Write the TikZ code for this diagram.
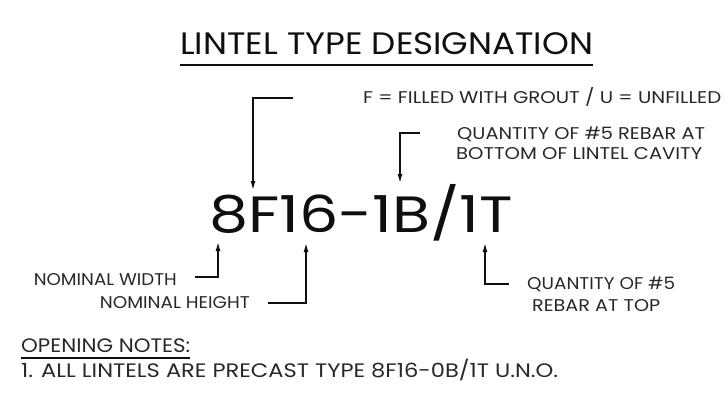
\documentclass[tikz,border=0pt]{standalone}
\usepackage{fontspec}
\setmainfont{Poppins}
\usetikzlibrary{arrows.meta,positioning}
\definecolor{ltInk}{RGB}{15,15,15}
\definecolor{ltNote}{RGB}{40,40,40}
% stretch a line of lettering to a set width, height kept
\newcommand{\cadline}[2]{\resizebox{#1pt}{\height}{#2}}
\tikzset{
  lbl/.style={inner sep=0pt, text=ltNote, font=\fontsize{17}{18}\selectfont},
  notelbl/.style={inner sep=0pt, text=ltNote, font=\fontsize{19.5}{21}\selectfont},
  ttl/.style={inner sep=0pt, text=ltInk, font=\fontsize{31}{34}\selectfont},
  desigtxt/.style={inner sep=0pt, text=ltInk, font=\fontsize{51}{56}\selectfont},
  lead/.style={draw=ltInk, line width=1.4pt, -{Latex[length=9pt,width=5pt]}},
  uline/.style={draw=ltInk, line width=1.3pt}
}

\begin{document}
\begin{tikzpicture}[x=1pt,y=-1pt]
  \useasboundingbox[fill=white] (0,0) rectangle (728,393);
  % title
  \node[ttl,anchor=base west] (title) at (180,55) {\cadline{413}{LINTEL TYPE DESIGNATION}};
  \draw[uline] ([yshift=-10pt]title.base west) -- ([yshift=-10pt]title.base east);
  % the designation itself
  \node[desigtxt,anchor=base west] (desig) at (209,232) {\cadline{304}{8F16-1B/1T}};
  % upper callouts
  \node[lbl,anchor=base west] (fillTxt) at (363,104) {\cadline{358}{F = FILLED WITH GROUT / U = UNFILLED}};
  \coordinate (fEnd) at (293,98);
  \coordinate (fKnee) at (253,98);
  \coordinate (fTip) at (253,190);
  \draw[lead] (fEnd) -- (fKnee) -- (fTip);
  \node[lbl,anchor=base west] (botA) at (457,140) {\cadline{248}{QUANTITY OF \#5 REBAR AT}};
  \node[lbl,anchor=base west] (botB) at (456,160) {\cadline{246}{BOTTOM OF LINTEL CAVITY}};
  \coordinate (bEnd) at (420,133);
  \coordinate (bKnee) at (400,133);
  \coordinate (bTip) at (400,183);
  \draw[lead] (bEnd) -- (bKnee) -- (bTip);
  % lower callouts
  \node[lbl,anchor=base east] (widTxt) at (177,285) {\cadline{143}{NOMINAL WIDTH}};
  \coordinate (wEnd) at (195,277);
  \coordinate (wKnee) at (218,277);
  \coordinate (wTip) at (218,242);
  \draw[lead] (wEnd) -- (wKnee) -- (wTip);
  \node[lbl,anchor=base east] (hgtTxt) at (250,308) {\cadline{150}{NOMINAL HEIGHT}};
  \coordinate (hEnd) at (268,303);
  \coordinate (hKnee) at (306,303);
  \coordinate (hTip) at (306,243);
  \draw[lead] (hEnd) -- (hKnee) -- (hTip);
  \node[lbl,anchor=base west] (topA) at (527,289) {\cadline{148}{QUANTITY OF \#5}};
  \node[lbl,anchor=base west] (topB) at (532,311) {\cadline{128}{REBAR AT TOP}};
  \coordinate (tEnd) at (509,284);
  \coordinate (tKnee) at (485,284);
  \coordinate (tTip) at (485,243);
  \draw[lead] (tEnd) -- (tKnee) -- (tTip);
  % notes
  \node[notelbl,anchor=base west] (notesHd) at (21,352) {\cadline{169}{OPENING NOTES:}};
  \draw[uline,line width=1.1pt] ([yshift=-6pt]notesHd.base west) -- ([yshift=-6pt]notesHd.base east);
  \node[notelbl,anchor=base west] (noteOne) at (21,377) {\cadline{537}{1. ALL LINTELS ARE PRECAST TYPE 8F16-0B/1T U.N.O.}};
\end{tikzpicture}
\end{document}
